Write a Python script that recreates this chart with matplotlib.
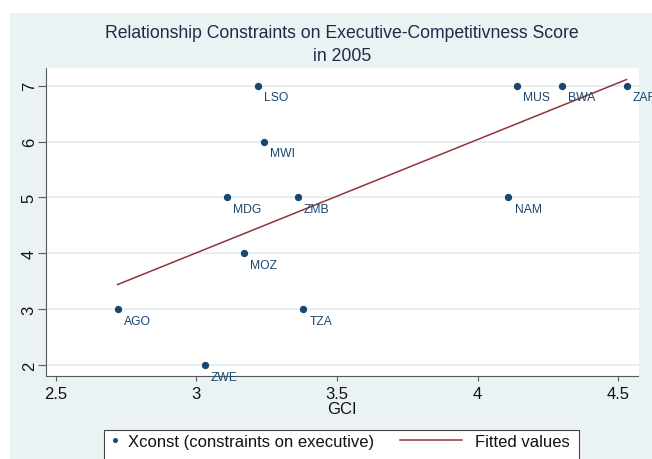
import matplotlib
matplotlib.use("Agg")
import matplotlib.pyplot as plt
from matplotlib.patches import Rectangle
from matplotlib.lines import Line2D
from matplotlib.legend_handler import HandlerLine2D

plt.rcParams["font.family"] = ["Liberation Sans", "DejaVu Sans"]

# ---- data -------------------------------------------------------------
countries = ["AGO", "BWA", "LSO", "MDG", "MWI", "MOZ",
             "MUS", "NAM", "ZAF", "TZA", "ZMB", "ZWE"]
gci = [2.72, 4.30, 3.22, 3.11, 3.24, 3.17, 4.14, 4.11, 4.53, 3.38, 3.36, 3.03]
xconst = [3, 7, 7, 5, 6, 4, 7, 5, 7, 3, 5, 2]

# fitted values at the ends of the GCI range
fit_x = [2.72, 4.53]
fit_y = [3.44, 7.11]

x_ticks = [2.5, 3.0, 3.5, 4.0, 4.5]
x_tick_labels = ["2.5", "3", "3.5", "4", "4.5"]
y_ticks = [2, 3, 4, 5, 6, 7]

title_lines = ["Relationship Constraints on Executive-Competitivness Score", "in 2005"]
series_label = "Xconst (constraints on executive)"
fit_label = "Fitted values"

# ---- style ------------------------------------------------------------
NAVY = "#1A476F"
MAROON = "#90353B"
BG = "#EAF2F3"
GRID = "#E1EBED"
AXIS = "#5a5a5a"

W, H = 652, 460
fig = plt.figure(figsize=(W / 100, H / 100), dpi=100, facecolor="white")

# graph region background
fig.add_artist(Rectangle((10 / W, -0.2), 1.0, 1 - 14 / H + 0.2,
                         transform=fig.transFigure, facecolor=BG,
                         edgecolor="none", zorder=-5))

ax = fig.add_axes([45.7 / W, 1 - 377 / H, (638.5 - 45.7) / W, (377 - 69.3) / H])
ax.set_facecolor("white")

ax.scatter(gci, xconst, s=28, color=NAVY, linewidths=0, zorder=3, clip_on=False)
ax.plot(fit_x, fit_y, color=MAROON, lw=1.1, zorder=2)

for name, x, y in zip(countries, gci, xconst):
    ax.annotate(name, (x, y), xytext=(4.5, -8.4), textcoords="offset points",
                ha="left", va="center", fontsize=8.7, color=NAVY,
                annotation_clip=False, zorder=4)

ax.set_xlim(2.4644, 4.5725)
ax.set_ylim(1.803, 7.311)
ax.set_xticks(x_ticks)
ax.set_xticklabels(x_tick_labels)
ax.set_yticks(y_ticks)

ax.yaxis.grid(True, color=GRID, lw=1.2)
ax.xaxis.grid(False)
ax.set_axisbelow(True)

for side in ("top", "right"):
    ax.spines[side].set_visible(False)
for side in ("left", "bottom"):
    ax.spines[side].set_color(AXIS)
    ax.spines[side].set_linewidth(0.8)

ax.tick_params(axis="x", length=3.6, width=0.8, color=AXIS, labelsize=12,
               pad=3.6, labelcolor="#111111")
ax.tick_params(axis="y", length=5.5, width=0.8, color=AXIS, labelsize=12,
               pad=1.0, labelcolor="#111111", labelrotation=90)
for lbl in ax.get_yticklabels():
    lbl.set_va("center")

ax.set_xlabel("GCI", fontsize=12, color="#111111")
ax.xaxis.set_label_coords(0.5, (377 - 409.5) / (377 - 69.3))
ax.xaxis.label.set_va("center")

# title
fig.text(342 / W, 1 - 37.7 / H, title_lines[0], ha="center", va="baseline",
         fontsize=12.7, color="#1e2b47")
fig.text(342 / W, 1 - 61.0 / H, title_lines[1], ha="center", va="baseline",
         fontsize=12.7, color="#1e2b47")


# legend: the line sample reaches back into the column gap
class WideLineHandler(HandlerLine2D):
    def create_artists(self, legend, orig_handle, xdescent, ydescent,
                       width, height, fontsize, trans):
        y = (height - ydescent) / 2
        ln = Line2D([-xdescent - 40.0, -xdescent + 5.0], [y, y])
        self.update_prop(ln, orig_handle, legend)
        ln.set_transform(trans)
        return [ln]


h_pts = Line2D([], [], ls="none", marker="o", ms=3.6, color=NAVY, mew=0)
h_fit = Line2D([], [], color=MAROON, lw=1.1)

fig.add_artist(Rectangle((104 / W, -0.2), 475 / W, 1 - 431 / H + 0.2,
                         transform=fig.transFigure, facecolor="white",
                         edgecolor="#444444", lw=0.8, zorder=4))
leg = fig.legend([h_pts, h_fit], [series_label, fit_label],
                 loc="upper left", bbox_to_anchor=(104 / W, 1 - 431 / H),
                 bbox_transform=fig.transFigure, ncol=2, frameon=False,
                 fontsize=12, handlelength=0.84, handletextpad=0.32,
                 borderpad=0.25, borderaxespad=0, columnspacing=4.9,
                 handler_map={h_fit: WideLineHandler()})
leg.set_zorder(5)
for t in leg.get_texts():
    t.set_color("#111111")

fig.savefig("out.png", dpi=100)
